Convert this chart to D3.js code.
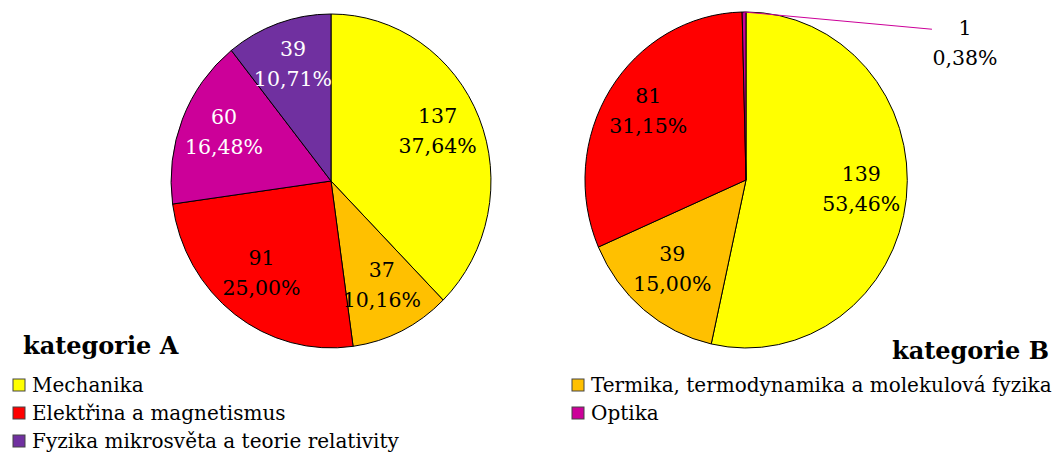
<!DOCTYPE html>
<html>
  <head>
    <meta charset="utf-8">
    <style>
      body {
        margin: 0;
        background: #fff;
        font-family: "DejaVu Serif", serif;
      }
      .slice {
        stroke: #000;
        stroke-width: 1px;
        vector-effect: non-scaling-stroke;
      }
      .lbl {
        font-size: 20.5px;
        text-anchor: middle;
      }
      .title {
        font-size: 24px;
        font-weight: bold;
      }
      .legend text {
        font-size: 20px;
      }
    </style>
  </head>
  <body>
    <script src="https://d3js.org/d3.v7.min.js"></script>
    <script>
      // categories in drawing order (clockwise from 12 o'clock)
      var categories = ["Mechanika", "Termika, termodynamika a molekulová fyzika",
                        "Elektřina a magnetismus", "Optika",
                        "Fyzika mikrosvěta a teorie relativity"];
      var colors = ["#FFFF00", "#FFC000", "#FF0000", "#CC0099", "#7030A0"];
      var valuesA = [137, 37, 91, 60, 39];
      var valuesB = [139, 39, 81, 1, 0];
      var percentA = ["37,64%", "10,16%", "25,00%", "16,48%", "10,71%"];
      var percentB = ["53,46%", "15,00%", "31,15%", "0,38%", "0,00%"];

      var W = 1061, H = 454;
      var svg = d3.select("body").append("svg")
          .attr("width", W).attr("height", H);

      var pie = d3.pie().sort(null).value(d => d.v);
      var arc = d3.arc().innerRadius(0).outerRadius(1);

      //white text on dark slices
      var textColor = i => (i >= 3 ? "#fff" : "#000");

      function drawPie(values, pct, cx, cy, rx, ry, title, tx, ty) {
        var data = values.map((v, i) => ({v: v, i: i, p: pct[i]}));
        var arcs = pie(data).filter(d => d.data.v > 0);
        var g = svg.append("g");

        g.append("g")
            .attr("transform", "translate(" + [cx, cy] + ") scale(" + rx + "," + ry + ")")
          .selectAll("path")
          .data(arcs)
          .enter().append("path")
            .attr("class", "slice")
            .attr("fill", d => colors[d.data.i])
            .attr("d", arc);

        arcs.forEach(d => {
          var mid = (d.startAngle + d.endAngle) / 2;
          var share = d.data.v / d3.sum(values);
          var px, py;
          if (share < 0.02) {
            // tiny slice: leader line to an outside label
            var ex = cx + Math.sin(mid) * rx, ey = cy - Math.cos(mid) * ry;
            px = cx + rx * 1.36; py = cy - ry * 0.82;
            g.append("line")
                .attr("x1", ex).attr("y1", ey)
                .attr("x2", px - 33).attr("y2", py - 13)
                .attr("stroke", colors[d.data.i]).attr("stroke-width", 1);
            g.append("text").attr("class", "lbl")
                .attr("x", px).attr("y", py - 7).text(d.data.v);
            g.append("text").attr("class", "lbl")
                .attr("x", px).attr("y", py + 23).text(d.data.p);
            return;
          }
          var k = 0.72;
          px = cx + Math.sin(mid) * rx * k;
          py = cy - Math.cos(mid) * ry * k - 4;
          g.append("text").attr("class", "lbl")
              .attr("fill", textColor(d.data.i))
              .attr("x", px).attr("y", py - 8).text(d.data.v);
          g.append("text").attr("class", "lbl")
              .attr("fill", textColor(d.data.i))
              .attr("x", px).attr("y", py + 22).text(d.data.p);
        });

        svg.append("text").attr("class", "title")
            .attr("x", tx).attr("y", ty).text(title);
      }

      drawPie(valuesA, percentA, 331, 181, 160, 167, "kategorie A", 23, 354);
      drawPie(valuesB, percentB, 746, 180, 161, 168, "kategorie B", 892, 359);

      // legend: two columns, one position per category
      var legendPos = [[13, 385], [572, 385], [13, 413], [572, 413], [13, 441]];
      var legend = svg.append("g").attr("class", "legend");
      var item = legend.selectAll("g")
          .data(categories)
          .enter().append("g")
            .attr("transform", (d, i) => "translate(" + legendPos[i] + ")");
      item.append("rect")
          .attr("x", 0).attr("y", -6)
          .attr("width", 12).attr("height", 12)
          .attr("fill", (d, i) => colors[i])
          .attr("stroke", "#444").attr("stroke-width", 1);
      item.append("text")
          .attr("x", 19).attr("y", 7)
          .text(d => d);
    </script>
  </body>
</html>
